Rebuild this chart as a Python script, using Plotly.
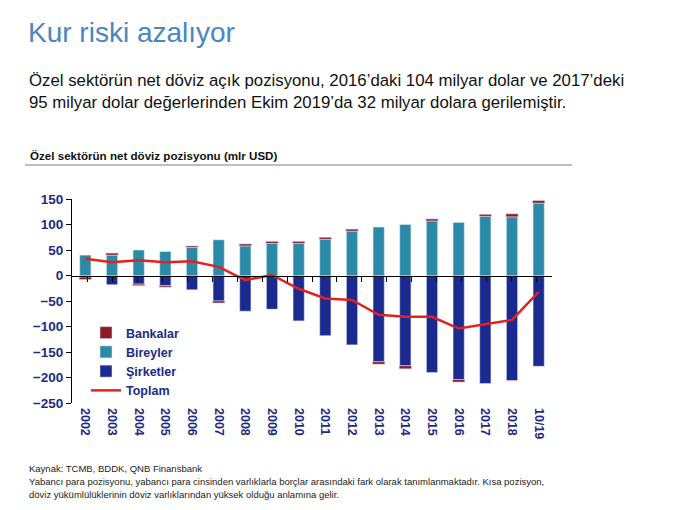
import plotly.graph_objects as go

years = ["2002", "2003", "2004", "2005", "2006", "2007", "2008", "2009", "2010",
         "2011", "2012", "2013", "2014", "2015", "2016", "2017", "2018", "10/19"]
bireyler = [40, 40, 50, 47, 55, 70, 58, 63, 63, 71, 87, 95, 100, 107, 104, 116, 115, 142]
sirketler = [-3, -18, -17, -20, -28, -50, -70, -66, -89, -118, -136, -169, -177, -190, -204, -212, -206, -178]
bankalar = [-5, 4, -3, -3, 3, -4, 4, 4, 4, 4, 4, -5, -6, 4, -5, 4, 6, 5]
toplam = [33, 26, 30, 26, 28, 17, -9, 1, -26, -45, -48, -77, -81, -81, -104, -95, -87, -32]
y_ticks = [-250, -200, -150, -100, -50, 0, 50, 100, 150]

W, H = 686, 510
L, R, T, B = 72, 552, 199, 403
def px(x):
    return (x - L) / (R - L)
def py(y):
    return (B - y) / (B - T)

NAVY = "#1c2a86"
FONT = "Liberation Sans, Arial, sans-serif"

fig = go.Figure()
fig.add_trace(go.Bar(x=years, y=bireyler, name="Bireyler", marker_color="#2a8aa8",
                     width=0.42, legendrank=2))
fig.add_trace(go.Bar(x=years, y=sirketler, name="Şirketler", marker_color="#1a2a8e",
                     width=0.42, legendrank=3))
fig.add_trace(go.Bar(x=years, y=bankalar, name="Bankalar", marker_color="#8e1b2b",
                     width=0.46, legendrank=1))
fig.add_trace(go.Scatter(x=years, y=toplam, name="Toplam", mode="lines",
                         line=dict(color="#e3211f", width=2.5), legendrank=4))
# helper trace for the zero-level category axis
fig.add_trace(go.Scatter(x=years, y=toplam, xaxis="x2", mode="markers",
                         marker=dict(opacity=0), showlegend=False, hoverinfo="skip"))

fig.update_layout(
    width=W, height=H,
    margin=dict(l=L, r=W - R, t=T, b=H - B),
    paper_bgcolor="white", plot_bgcolor="white",
    barmode="relative", bargap=0.58,
    font=dict(family=FONT),
    showlegend=True,
    legend=dict(x=px(86), y=py(318), xanchor="left", yanchor="top",
                bgcolor="rgba(0,0,0,0)", tracegroupgap=0, itemwidth=30,
                font=dict(size=12.5, color=NAVY, weight="bold", family=FONT)),
    xaxis=dict(type="category", showline=False, ticks="", tickangle=90,
               showgrid=False, zeroline=False, ticklabelstandoff=4,
               tickfont=dict(size=12.5, color=NAVY, weight="bold", family=FONT)),
    xaxis2=dict(type="category", overlaying="x", anchor="free", position=0.625,
                side="bottom", showticklabels=False, showline=True, linecolor="black",
                linewidth=1, ticks="outside", tickson="boundaries", ticklen=5,
                tickcolor="black", showgrid=False, zeroline=False),
    yaxis=dict(range=[-250, 150], tickvals=y_ticks, showline=True, linecolor="black",
               linewidth=1, ticks="outside", ticklen=5, tickcolor="black",
               showgrid=False, zeroline=False,
               tickfont=dict(size=13.5, color=NAVY, weight="bold", family=FONT)),
)

ann = []
ann.append(dict(text="Kur riski azalıyor", x=px(26), y=py(32), xanchor="left", yanchor="middle",
                font=dict(size=28, color="#4a87c0", family=FONT)))
ann.append(dict(text="Özel sektörün net döviz açık pozisyonu, 2016’daki 104 milyar dolar ve 2017’deki",
                x=px(27), y=py(80), xanchor="left", yanchor="middle",
                font=dict(size=16.8, color="#111111", family=FONT)))
ann.append(dict(text="95 milyar dolar değerlerinden Ekim 2019’da 32 milyar dolara gerilemiştir.",
                x=px(27), y=py(103), xanchor="left", yanchor="middle",
                font=dict(size=16.8, color="#111111", family=FONT)))
ann.append(dict(text="Özel sektörün net döviz pozisyonu (mlr USD)", x=px(28), y=py(155),
                xanchor="left", yanchor="middle",
                font=dict(size=11.6, color="#111111", weight="bold", family=FONT)))
ann.append(dict(text="Kaynak: TCMB, BDDK, QNB Finansbank", x=px(27), y=py(468),
                xanchor="left", yanchor="middle", font=dict(size=9.5, color="#222222", family=FONT)))
ann.append(dict(text="Yabancı para pozisyonu, yabancı para cinsinden varlıklarla borçlar arasındaki fark olarak tanımlanmaktadır. Kısa pozisyon,",
                x=px(27), y=py(481), xanchor="left", yanchor="middle",
                font=dict(size=9.5, color="#222222", family=FONT)))
ann.append(dict(text="döviz yükümlülüklerinin döviz varlıklarından yüksek olduğu anlamına gelir.",
                x=px(27), y=py(494), xanchor="left", yanchor="middle",
                font=dict(size=9.5, color="#222222", family=FONT)))
for a in ann:
    a.update(xref="paper", yref="paper", showarrow=False)
fig.update_layout(annotations=ann)

fig.add_shape(type="line", xref="paper", yref="paper", x0=px(25), x1=px(572),
              y0=py(165), y1=py(165), line=dict(color="#a8a8a8", width=1.5))

fig.write_html("out.html")
